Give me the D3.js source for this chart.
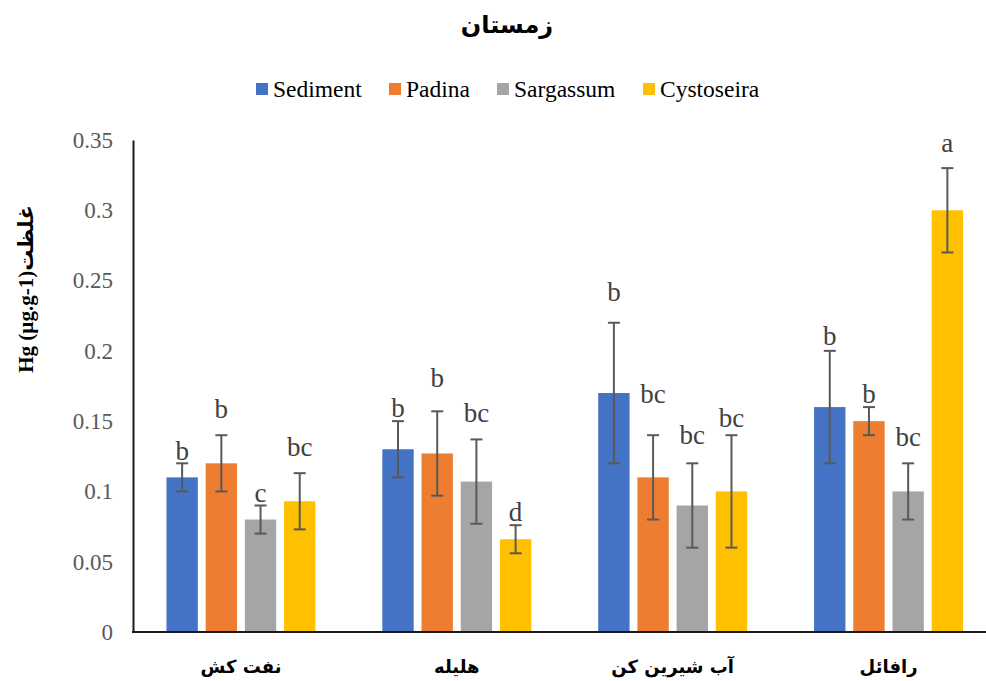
<!DOCTYPE html>
<html>
<head>
<meta charset="utf-8">
<script src="https://cdn.jsdelivr.net/npm/d3@7"></script>
<style>
  html, body { margin: 0; padding: 0; background: #fff; }
  svg { display: block; }
</style>
</head>
<body>
<svg id="chart" width="986" height="681"></svg>
<script>
// Sampling stations (x-axis groups)
const categories = ["نفت کش", "هلیله", "آب شیرین کن", "رافائل"];
const seriesNames = ["Sediment", "Padina", "Sargassum", "Cystoseira"];

// Mean Hg concentration per series, one value per station
const sediment   = [0.11, 0.13, 0.17, 0.16];
const padina     = [0.12, 0.127, 0.11, 0.15];
const sargassum  = [0.08, 0.107, 0.09, 0.10];
const cystoseira = [0.093, 0.066, 0.10, 0.30];

// Error bar half-widths
const sedimentErr   = [0.01, 0.02, 0.05, 0.04];
const padinaErr     = [0.02, 0.03, 0.03, 0.01];
const sargassumErr  = [0.01, 0.03, 0.03, 0.02];
const cystoseiraErr = [0.02, 0.01, 0.04, 0.03];

// Significance letters
const sedimentLetters   = ["b", "b", "b", "b"];
const padinaLetters     = ["b", "b", "bc", "b"];
const sargassumLetters  = ["c", "bc", "bc", "bc"];
const cystoseiraLetters = ["bc", "d", "bc", "a"];

// Level (in axis units) of each letter's baseline
const sedimentLetterLevel   = [0.1223, 0.1531, 0.2356, 0.2039];
const padinaLetterLevel     = [0.1522, 0.174, 0.1627, 0.1627];
const sargassumLetterLevel  = [0.0927, 0.1496, 0.1337, 0.1325];
const cystoseiraLetterLevel = [0.1252, 0.0792, 0.146, 0.3416];

const yTicks = [0, 0.05, 0.1, 0.15, 0.2, 0.25, 0.3, 0.35];

const colors = ["#4472C4", "#ED7D31", "#A5A5A5", "#FFC000"];

const values = [sediment, padina, sargassum, cystoseira];
const errs = [sedimentErr, padinaErr, sargassumErr, cystoseiraErr];
const letters = [sedimentLetters, padinaLetters, sargassumLetters, cystoseiraLetters];
const levels = [sedimentLetterLevel, padinaLetterLevel, sargassumLetterLevel, cystoseiraLetterLevel];

const rows = [];
categories.forEach((c, ci) => {
  seriesNames.forEach((s, si) => {
    rows.push({
      cat: c, series: s, si,
      v: values[si][ci], e: errs[si][ci],
      letter: letters[si][ci], level: levels[si][ci]
    });
  });
});

const svg = d3.select("#chart");
const W = 986, H = 681;
const plot = { left: 133, top: 140, bottom: 632, right: 996.5 };

const x0 = d3.scaleBand()
  .domain(categories)
  .range([plot.left, plot.right])
  .paddingInner(0.31)
  .paddingOuter(0.155);

const x1 = d3.scaleBand()
  .domain(seriesNames)
  .range([0, x0.bandwidth()])
  .paddingInner(0.2)
  .paddingOuter(0);

const y = d3.scaleLinear().domain([0, 0.35]).range([plot.bottom, plot.top]);

const color = d3.scaleOrdinal().domain(seriesNames).range(colors);

// Title
svg.append("text")
  .attr("x", 507).attr("y", 33)
  .attr("text-anchor", "middle")
  .attr("font-family", "'DejaVu Sans', sans-serif")
  .attr("font-weight", "bold")
  .attr("font-size", 24)
  .attr("fill", "#000")
  .text("زمستان");

// Legend
const legendX = [256, 389, 497, 643];
const legend = svg.append("g");
seriesNames.forEach((s, i) => {
  const g = legend.append("g").attr("transform", `translate(${legendX[i]},83)`);
  g.append("rect").attr("width", 12).attr("height", 12).attr("fill", color(s));
  g.append("text")
    .attr("x", 17).attr("y", 13.5)
    .attr("font-family", "'Liberation Serif', 'Times New Roman', serif")
    .attr("font-size", 23.5)
    .attr("fill", "#000")
    .text(s);
});

// Y axis
const yAxis = d3.axisLeft(y)
  .tickValues(yTicks)
  .tickSize(0)
  .tickPadding(20)
  .tickFormat(d => d3.format("")(+d.toFixed(2)));

const gy = svg.append("g")
  .attr("transform", `translate(${plot.left},0)`)
  .call(yAxis);
gy.select(".domain").attr("stroke", "#1a1a1a").attr("stroke-width", 2);
gy.selectAll(".tick text")
  .attr("font-family", "'Liberation Serif', 'Times New Roman', serif")
  .attr("font-size", 23)
  .attr("fill", "#595959");

// Y axis title
svg.append("text")
  .attr("transform", "translate(33,289) rotate(-90)")
  .attr("text-anchor", "middle")
  .attr("direction", "ltr")
  .attr("font-family", "'Liberation Serif', 'DejaVu Sans', serif")
  .attr("font-weight", "bold")
  .attr("font-size", 21)
  .attr("fill", "#000")
  .text("Hg (µg.g-1)غلظت");

// Bars
const bars = svg.append("g");
bars.selectAll("rect")
  .data(rows)
  .join("rect")
  .attr("x", d => x0(d.cat) + x1(d.series))
  .attr("width", x1.bandwidth())
  .attr("y", d => y(d.v))
  .attr("height", d => y(0) - y(d.v))
  .attr("fill", d => color(d.series));

// Error bars
const errG = svg.append("g")
  .attr("stroke", "#595959")
  .attr("stroke-width", 2)
  .attr("fill", "none");
rows.forEach(d => {
  const cx = x0(d.cat) + x1(d.series) + x1.bandwidth() / 2;
  const hi = y(d.v + d.e), lo = y(d.v - d.e);
  errG.append("line").attr("x1", cx).attr("x2", cx).attr("y1", hi).attr("y2", lo);
  errG.append("line").attr("x1", cx - 6).attr("x2", cx + 6).attr("y1", hi).attr("y2", hi);
  errG.append("line").attr("x1", cx - 6).attr("x2", cx + 6).attr("y1", lo).attr("y2", lo);
});

// X axis
const xAxis = d3.axisBottom(x0).tickSize(0).tickPadding(28);
const gx = svg.append("g")
  .attr("transform", `translate(0,${plot.bottom})`)
  .call(xAxis);
gx.select(".domain").remove();
gx.append("line")
  .attr("x1", plot.left - 1).attr("x2", W)
  .attr("y1", 0).attr("y2", 0)
  .attr("stroke", "#1a1a1a").attr("stroke-width", 2);
gx.selectAll(".tick text")
  .attr("font-family", "'DejaVu Sans', sans-serif")
  .attr("font-weight", "bold")
  .attr("font-size", 18)
  .attr("fill", "#000");

// Significance letters
svg.append("g").selectAll("text")
  .data(rows)
  .join("text")
  .attr("x", d => x0(d.cat) + x1(d.series) + x1.bandwidth() / 2)
  .attr("y", d => y(d.level))
  .attr("text-anchor", "middle")
  .attr("font-family", "'Liberation Serif', 'Times New Roman', serif")
  .attr("font-size", 27)
  .attr("fill", "#404040")
  .text(d => d.letter);
</script>
</body>
</html>
